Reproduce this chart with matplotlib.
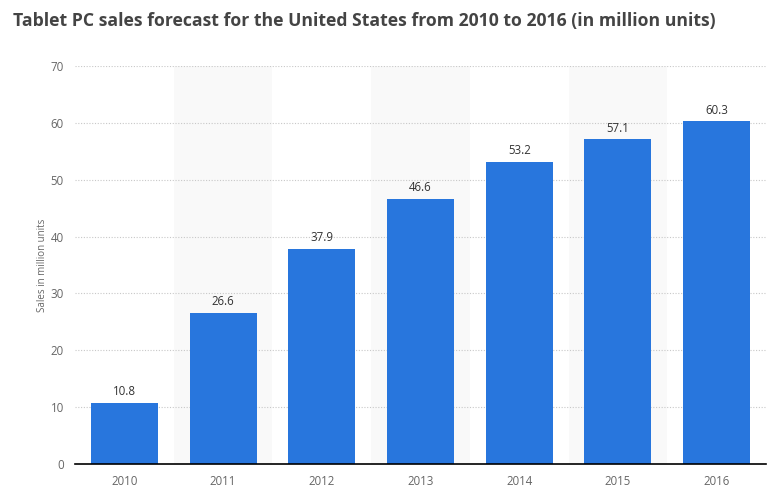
import matplotlib
matplotlib.use("Agg")
import matplotlib.pyplot as plt

years = ["2010", "2011", "2012", "2013", "2014", "2015", "2016"]
sales = [10.8, 26.6, 37.9, 46.6, 53.2, 57.1, 60.3]
yticks = [0, 10, 20, 30, 40, 50, 60, 70]

plt.rcParams['font.family'] = ['Open Sans', 'DejaVu Sans']

fig = plt.figure(figsize=(7.79, 4.95), dpi=100)
ax = fig.add_axes([0.0963, 0.0626, 0.8870, 0.8041])

x = list(range(len(years)))
for i in x:
    if i % 2 == 1:
        ax.axvspan(i - 0.5, i + 0.5, color="#f9f9f9", zorder=0, lw=0)

bars = ax.bar(x, sales, width=0.68, color="#2876dd", zorder=3)
for xi, v in zip(x, sales):
    ax.text(xi, v + 0.8, f"{v}", ha="center", va="bottom", fontsize=8.3, color="#333333", zorder=4)

ax.set_xlim(-0.5, len(years) - 0.5)
ax.set_ylim(0, 70)
ax.set_yticks(yticks)
ax.set_xticks(x)
ax.set_xticklabels(years)
ax.yaxis.grid(True, linestyle=(0, (1, 1.5)), color="#c8c8c8", lw=0.8, zorder=1)
ax.set_axisbelow(True)
for s in ["top", "right", "left"]:
    ax.spines[s].set_visible(False)
ax.spines["bottom"].set_color("#000000")
ax.spines["bottom"].set_linewidth(1.2)
ax.spines["bottom"].set_zorder(5)
ax.tick_params(axis="both", length=0, labelsize=8.3, labelcolor="#666666")
ax.tick_params(axis="y", pad=8)
ax.tick_params(axis="x", pad=8)

ax.set_ylabel("Sales in million units", fontsize=7, color="#666666", labelpad=2)

fig.text(0.017, 0.957, "Tablet PC sales forecast for the United States from 2010 to 2016 (in million units)",
         fontsize=12.7, fontweight="bold", color="#444444", ha="left", va="center")

fig.savefig("out.png", dpi=100)
